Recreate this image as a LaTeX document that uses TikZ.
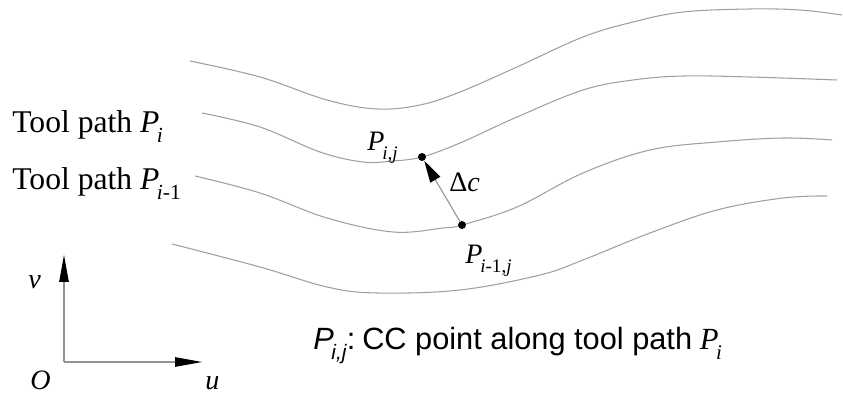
\documentclass[tikz,border=0pt]{standalone}
\usepackage{fontspec}
\setmainfont{Liberation Serif}
\setsansfont{Liberation Sans}
\usetikzlibrary{arrows.meta, positioning}
\newcommand{\subx}[1]{\kern-0.08em\raisebox{-0.3em}{\scalebox{0.68}{#1}}}
\newcommand{\pvar}[1]{\textit{P}\subx{#1}}
\tikzset{
  toolpath/.style = {draw=gray!75, line width=0.6pt},
  ccpt/.style     = {circle, fill=black, inner sep=0pt, minimum size=1.6mm},
  axisline/.style = {draw=gray!85, line width=0.6pt, -{Triangle[length=5.4mm, width=1.9mm, color=black]}},
  offset/.style   = {draw=gray!85, line width=0.6pt, -{Triangle[length=4.4mm, width=2.3mm, color=black]}},
  testo/.style    = {font=\fontsize{18}{21}\selectfont, inner sep=0pt},
  legenda/.style  = {font=\fontsize{17.5}{21}\selectfont, inner sep=0pt},
  lbl/.style      = {font=\fontsize{16}{19}\selectfont, inner sep=0pt},
  axlbl/.style    = {font=\fontsize{16}{19}\selectfont\itshape, inner sep=0pt}
}

\begin{document}
\begin{tikzpicture}[x=0.02cm, y=-0.02cm]

  \useasboundingbox (0,0) rectangle (843,398);

  % tool paths
  \draw[toolpath] plot[smooth, tension=0.6] coordinates {(190,61) (260,77) (327,100) (377,109) (420,105) (460,92) (517,67) (583,37) (633,22) (683,12) (750,9) (800,10) (842,15)};
  \draw[toolpath] plot[smooth, tension=0.6] coordinates {(202,113) (260,127) (320,152) (363,162) (393,161) (422,157) (460,143) (517,117) (583,90) (633,80) (683,76) (750,77) (837,80)};
  \draw[toolpath] plot[smooth, tension=0.6] coordinates {(195,176) (260,193) (327,218) (393,232) (443,228) (462,225) (517,207) (583,173) (650,150) (717,142) (783,138) (832,140)};
  \draw[toolpath] plot[smooth, tension=0.6] coordinates {(172,244) (260,267) (327,287) (377,293) (460,290) (540,275) (583,260) (650,233) (717,210) (783,198) (827,196)};

  % cc points
  \node[ccpt] (pij)   at (422,157) {};
  \node[ccpt] (pim1j) at (462,225) {};
  \draw[offset] (pim1j) -- (pij);

  \node[lbl, anchor=base west] (lpij)   at (367,151) {\pvar{\textit{i,j}}};
  \node[lbl, anchor=base west] (ldc)    at (449,192) {Δ\textit{c}};
  \node[lbl, anchor=base west] (lpim1j) at (465,264) {\pvar{\textit{i}-1,\textit{j}}};

  % path names
  \node[testo, anchor=base west] (tpi)   at (12,133) {Tool path \pvar{\textit{i}}};
  \node[testo, anchor=base west] (tpim1) at (12,190) {Tool path \pvar{\textit{i}-1}};

  % axes
  \coordinate (orig) at (64,362);
  \coordinate (vend) at (64,255);
  \coordinate (uend) at (202,362);
  \draw[axisline] (orig) -- (vend);
  \draw[axisline] (orig) -- (uend);
  \node[axlbl, anchor=base west] (lv) at (28,289) {v};
  \node[axlbl, anchor=base west] (lo) at (30,390) {O};
  \node[axlbl, anchor=base west] (lu) at (205,390) {u};

  % caption
  \node[legenda, anchor=base west] (cap) at (313,350)
    {{\sffamily\pvar{\textit{i,j}}:\hspace{0.22em}CC point along tool path} \pvar{\textit{i}}};

\end{tikzpicture}
\end{document}
